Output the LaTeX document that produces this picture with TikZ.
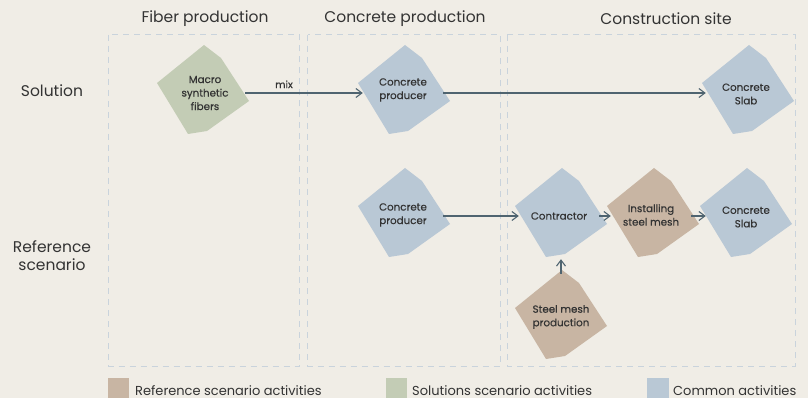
\documentclass[tikz,border=0pt]{standalone}
\usepackage{fontspec}
\setmainfont{Poppins}
\newfontfamily\nodefont[FakeBold=0.4]{Poppins}
\usetikzlibrary{arrows.meta}
\definecolor{bg}{HTML}{F0EDE6}
\definecolor{cgreen}{HTML}{C3CCB5}
\definecolor{cblue}{HTML}{B9C8D5}
\definecolor{cbrown}{HTML}{C8B5A3}
\definecolor{cdash}{HTML}{C9D3DC}
\definecolor{carrow}{HTML}{4F6470}
\definecolor{ctext}{HTML}{333333}
\tikzset{
  act/.style={inner sep=0pt, minimum width=80pt, minimum height=86pt, align=center,
    text=ctext, font=\nodefont\fontsize{10.3}{13.5}\selectfont},
  arr/.style={draw=carrow, line width=1.1pt, -{Straight Barb[length=6pt,width=9pt,line width=1.1pt]}},
  zone/.style={draw=cdash, line width=1pt, dash pattern=on 6pt off 5pt},
  title/.style={text=ctext, font=\fontsize{15.5}{18}\selectfont},
  side/.style={text=ctext, align=center, font=\fontsize{15.5}{18}\selectfont},
  legtext/.style={text=ctext, anchor=base west, inner sep=0pt, font=\fontsize{13}{15}\selectfont},
}
\newcommand\blob[5]{% name, shape centre, colour, node pos, text
  \fill[#3, shift={#2}] (0,-45) -- (17,-32) -- (45,11) -- (3,41) -- (-16,44) -- (-47,-7) -- cycle;
  \node[act] (#1) at #4 {#5};}
\begin{document}
\begin{tikzpicture}[x=1pt,y=-1pt]
\fill[bg] (0,0) rectangle (808,398);
\useasboundingbox (0,0) rectangle (808,398);
% zones
\draw[zone] (108.5,35) rectangle (299,366);
\draw[zone] (307.5,35) rectangle (500,366);
\draw[zone] (507,35) rectangle (795,366);
% titles
\node[title] (t1) at (205,19) {Fiber production};
\node[title] (t2) at (405,19) {Concrete production};
\node[title] (t3) at (666,19) {Construction site};
\node[side] (s1) at (52,91) {Solution};
\node[side] (s2) at (52,256) {Reference\\scenario};
% activities
\blob{mf}{(204,90)}{cgreen}{(205,93)}{Macro\\synthetic\\fibers}
\blob{cpa}{(405,90)}{cblue}{(403,90)}{Concrete\\producer}
\blob{sla}{(749,90)}{cblue}{(746,94)}{Concrete\\Slab}
\blob{cpb}{(405,213)}{cblue}{(403,215)}{Concrete\\producer}
\blob{ctr}{(562,213)}{cblue}{(559,216)}{Contractor}
\blob{ins}{(654,213)}{cbrown}{(651,215)}{Installing\\steel mesh}
\blob{slb}{(747,213)}{cblue}{(746,217)}{Concrete\\Slab}
\blob{smp}{(562,315)}{cbrown}{(561,317)}{Steel mesh\\production}
% connectors
\draw[arr] (mf.east) -- node[pos=0.33, above=1pt, text=ctext, font=\nodefont\fontsize{10}{11}\selectfont] (mix) {mix} (mf.east -| cpa.west);
\draw[arr] ([yshift=-3pt]cpa.east) -- ([yshift=-3pt]cpa.east -| sla.west);
\draw[arr] (cpb.east |- ctr.east) -- (ctr.west);
\draw[arr] (ctr.east) -- (ctr.east -| ins.west);
\draw[arr] (ins.east |- ctr.east) -- (ctr.east -| slb.west);
\draw[arr] (smp.north) -- (smp.north |- ctr.south);
% legend
\fill[cbrown] (108,378) rectangle (129,398);
\node[legtext] (l1) at (135,395) {Reference scenario activities};
\fill[cgreen] (386,378) rectangle (407,398);
\node[legtext] (l2) at (412,395) {Solutions scenario activities};
\fill[cblue] (647,378) rectangle (669,398);
\node[legtext] (l3) at (673,395) {Common activities};
\end{tikzpicture}
\end{document}
